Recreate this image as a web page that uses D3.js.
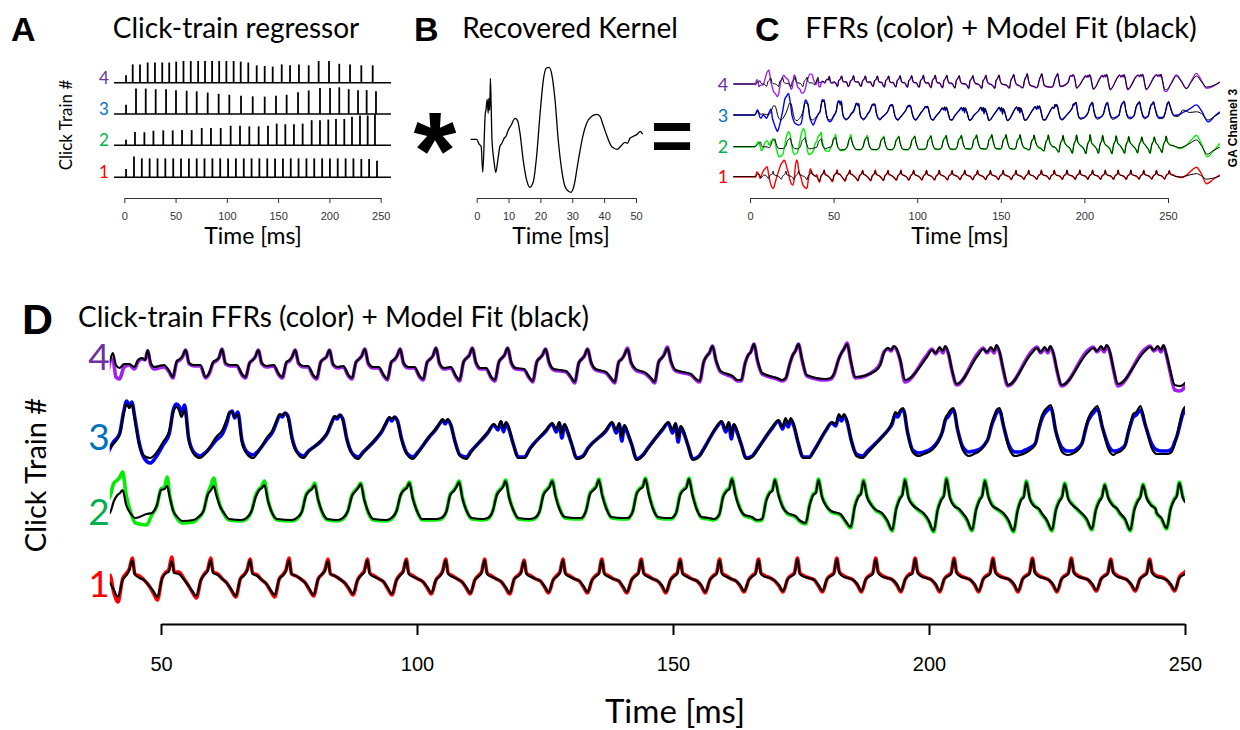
<!DOCTYPE html>
<html>
<head>
<meta charset="utf-8">
<script src="https://cdn.jsdelivr.net/npm/d3@7"></script>
<style>
  body { margin: 0; background: #fff; }
  .cal { font-family: Lato, "Open Sans", sans-serif; fill: #000; }
  .bold { font-family: "Liberation Sans", Arial, sans-serif; font-weight: bold; fill: #000; }
  .axis path, .axis line { stroke: #333; stroke-width: 1; }
  .axis text { font-family: "Liberation Sans", Arial, sans-serif; font-size: 11px; fill: #333; }
  .axisD path, .axisD line { stroke: #000; stroke-width: 2; }
  .axisD text { font-family: "Liberation Sans", Arial, sans-serif; font-size: 20px; fill: #000; }
</style>
</head>
<body>
<div id="chart"></div>
<script>

// ---- data ----
var traceStart = -10;
var restLevel = [-5, -9, -12, -6];   // pre-stimulus level, trains 1..4

var ticksA = [0, 50, 100, 150, 200, 250];
var ticksB = [0, 10, 20, 30, 40, 50];
var ticksD = [50, 100, 150, 200, 250];
var trainNames = ["1", "2", "3", "4"];

// recovered kernel (panel B)
var kernelT = [-1.9, 0, 0.8, 1.4, 1.9, 2.7, 2.9, 3.3, 3.6, 3.8, 4.1, 4.3, 4.5, 4.8, 5.4, 6.0, 6.5, 7.3, 7.9, 8.6, 9.2, 9.9, 10.8, 12.0, 12.8, 13.6, 14.6, 15.7, 16.7, 17.8, 18.8, 19.9, 20.9, 21.8, 22.7, 23.5, 24.6, 25.6, 26.7, 27.7, 28.8, 29.6, 30.5, 31.9, 33.3, 34.5, 36.1, 37.7, 38.7, 39.7, 40.8, 42.1, 43.1, 44.1, 45.2, 46.5, 47.3, 48.1, 49.2, 50.4, 51.3, 52.1];
var kernelV = [0, 0, -5, -7, -33, 26, 29, 40, 26, 41, 29, 61, 39, -1, -21, -33, -24, -7, -4, 1, 3, 9, 14, 21, 19, 6, -21, -41, -48, -42, -17, 26, 59, 71, 72, 66, 39, -1, -31, -47, -52, -53, -47, -21, 3, 16, 23, 25, 23, 14, 4, -6, -9, -10, -7, -3, -4, 1, 3, 5, 8, 5];

// train 1 (red)
var clicks1 = [1.7, 9.45, 17.1, 24.7, 32.4, 40.0, 47.7, 55.3, 63.0, 70.6, 78.2, 85.9, 93.5, 101.2, 108.8, 116.5, 124.1, 131.7, 139.4, 147.0, 154.7, 162.3, 169.9, 177.6, 185.2, 192.9, 200.5, 208.1, 215.8, 223.4, 231.1, 238.7, 246.4];
var amp1 = [0.27, 0.67, 0.61, 0.61, 0.61, 0.61, 0.61, 0.61, 0.61, 0.61, 0.61, 0.61, 0.61, 0.61, 0.61, 0.61, 0.61, 0.61, 0.61, 0.61, 0.61, 0.61, 0.61, 0.61, 0.61, 0.61, 0.61, 0.61, 0.61, 0.61, 0.59, 0.59, 0.53];
var offs1 = [0, 0.8, 1.6, 2.5, 3.3, 3.8, 4.4, 4.9, 5.8, 6.7];
var fit1 = [
  [-5, -5, -7, 2, 6, 3, -4, -9, -3, 1],
  [0, -6, -12, 0, 3, 4, 15, 2, 0, -2],
  [-4, -8, -14, -2, 2, 4, 15, 2, 0, -2],
  [-4, -8, -15, -2, 2, 5, 15, 3, 1, -2],
  [-4, -9, -16, -1, 3, 5, 16, 3, 1, -3],
  [-6, -13, -20, -3, 2, 7, 17, 3, -1, -3],
  [-9, -14, -20, -2, 4, 5, 16, 4, 3, -2],
  [-8, -14, -19, -3, 3, 6, 17, 4, 2, -2],
  [-7, -13, -19, -2, 2, 6, 17, 3, 1, -3],
  [-7, -13, -18, -2, 2, 6, 17, 3, 1, -2],
  [-6, -12, -18, -2, 3, 6, 16, 3, 1, -2],
  [-6, -11, -17, -3, 2, 5, 17, 3, 0, -2],
  [-5, -11, -17, -3, 2, 5, 17, 3, 0, -2],
  [-5, -10, -16, -3, 1, 5, 17, 3, 0, -2],
  [-5, -10, -16, -3, 1, 4, 17, 3, 0, -2],
  [-5, -10, -16, -2, 1, 4, 16, 3, 0, -2],
  [-4, -9, -15, -3, 1, 4, 17, 3, 0, -2],
  [-4, -9, -15, -3, 1, 3, 17, 3, 0, -2],
  [-4, -9, -15, -3, 1, 3, 17, 3, 0, -2],
  [-4, -8, -15, -3, 1, 3, 17, 3, 0, -2],
  [-4, -8, -15, -3, 1, 3, 17, 3, 0, -2],
  [-4, -8, -14, -3, 1, 3, 17, 3, 0, -1],
  [-4, -8, -14, -2, 1, 3, 18, 3, 0, -1],
  [-3, -8, -14, -2, 1, 3, 18, 4, 0, -1],
  [-3, -7, -14, -2, 1, 3, 18, 4, 0, -1],
  [-3, -7, -14, -2, 2, 3, 18, 4, 0, -1],
  [-3, -7, -14, -2, 1, 3, 18, 4, 0, -1],
  [-3, -7, -14, -2, 1, 3, 18, 4, 0, -1],
  [-3, -7, -14, -2, 1, 3, 18, 4, 0, -1],
  [-3, -7, -14, -2, 1, 3, 18, 4, 0, -1],
  [-3, -7, -13, -2, 1, 3, 17, 4, 0, -1],
  [-3, -7, -13, -2, 1, 3, 17, 4, 0, -1],
  [-3, -7, -13, -1, 2, 4, 16, 4, 1, 0]
];
var ffr1 = [
  [-5, -5, -3, 13, 5, 0, -11, -5, 10, 19],
  [27, 31, 6, -22, -38, -43, -47, -42, -22, -3],
  [15, 30, 41, 48, 54, 52, 40, 28, 10, -15],
  [-30, -35, -20, 35, 55, 45, 20, 8, -8, -30],
  [-41, -45, -47, -15, 15, 24, 12, 6, 1, -4],
  [2, -16, -25, -2, 4, 8, 19, 3, 1, -3],
  [-9, -16, -23, -1, 5, 7, 20, 5, 5, -1],
  [-8, -15, -21, -3, 4, 7, 19, 5, 3, -2],
  [-7, -14, -20, -2, 3, 7, 18, 4, 2, -3],
  [-7, -14, -20, -2, 3, 7, 19, 3, 1, -2],
  [-6, -13, -19, -2, 3, 7, 18, 3, 1, -2],
  [-6, -12, -18, -3, 3, 6, 18, 4, 1, -2],
  [-5, -12, -18, -3, 3, 6, 18, 4, 1, -2],
  [-5, -11, -17, -3, 2, 6, 18, 4, 1, -2],
  [-5, -11, -17, -3, 2, 5, 18, 4, 1, -2],
  [-5, -11, -17, -2, 2, 5, 17, 4, 1, -2],
  [-4, -10, -16, -3, 2, 5, 18, 4, 1, -2],
  [-4, -10, -16, -3, 2, 4, 18, 4, 1, -2],
  [-4, -10, -16, -3, 2, 4, 18, 4, 1, -2],
  [-4, -9, -16, -3, 2, 4, 18, 4, 1, -2],
  [-4, -9, -16, -3, 2, 4, 18, 4, 1, -2],
  [-4, -9, -15, -3, 2, 4, 18, 4, 1, -1],
  [-4, -9, -15, -2, 2, 4, 19, 4, 1, -1],
  [-3, -9, -15, -2, 2, 4, 19, 5, 1, -1],
  [-3, -8, -15, -2, 2, 4, 19, 5, 1, -1],
  [-3, -8, -15, -2, 3, 4, 19, 5, 1, -1],
  [-3, -8, -15, -2, 2, 4, 19, 5, 1, -1],
  [-3, -8, -15, -2, 2, 4, 19, 5, 1, -1],
  [-3, -8, -15, -2, 2, 4, 19, 5, 1, -1],
  [-3, -8, -15, -2, 2, 4, 19, 5, 1, -1],
  [-3, -8, -14, -2, 2, 4, 18, 5, 1, -1],
  [-3, -8, -14, -2, 2, 4, 18, 5, 1, 0],
  [-3, -8, -14, 0, 4, 6, 17, 6, 3, 2]
];
var tailT1 = [254, 258, 262, 265, 267, 270, 273, 277, 281];
var tailFit1 = [-3, -6, 0, 4, 6, -2, -14, -10, -3];
var tailFfr1 = [-2, -8, 5, 22, 29, 5, -30, -15, 2];

// train 2 (green)
var clicks2 = [1.7, 10.4, 19.6, 28.4, 38.0, 47.2, 56.3, 65.7, 75.5, 84.5, 94.0, 103.7, 112.8, 121.9, 131.0, 140.1, 148.6, 157.0, 165.4, 173.9, 182.7, 190.8, 198.9, 206.4, 214.5, 222.0, 229.8, 237.3, 244.4];
var amp2 = [0.18, 0.43, 0.42, 0.47, 0.48, 0.48, 0.49, 0.49, 0.56, 0.56, 0.56, 0.63, 0.63, 0.61, 0.61, 0.63, 0.70, 0.68, 0.68, 0.70, 0.81, 0.81, 0.83, 0.85, 0.85, 0.92, 0.96, 0.96, 0.99];
var offs2 = [0, 1.0, 2.0, 2.8, 3.5, 4.0, 4.5, 5.2, 6.0, 7.0];
var fit2 = [
  [-9, -9, -7, -3, 0, 2, 4, -6, -10, -9],
  [-10, -12, -6, 6, 9, 10, 12, 0, -10, -14],
  [-14, -12, -5, 8, 11, 12, 15, 2, -9, -14],
  [-15, -13, -5, 8, 11, 12, 16, 3, -9, -15],
  [-13, -12, -10, 2, 8, 10, 13, -2, -10, -15],
  [-11, -10, -2, 13, 14, 17, 6, -8, -14, -18],
  [-17, -14, -8, 8, 13, 17, 8, -3, -10, -16],
  [-17, -15, -8, 6, 13, 15, 18, 2, -10, -16],
  [-17, -15, -9, 7, 12, 14, 18, 3, -9, -16],
  [-17, -15, -8, 7, 12, 15, 19, 3, -9, -16],
  [-17, -15, -8, 8, 13, 15, 20, 4, -8, -16],
  [-16, -15, -9, 8, 12, 16, 21, 4, -8, -15],
  [-16, -15, -8, 8, 13, 16, 22, 5, -7, -15],
  [-16, -15, -9, 8, 13, 16, 22, 6, -7, -14],
  [-15, -15, -8, 9, 13, 16, 23, 7, -6, -14],
  [-15, -15, -9, 9, 14, 16, 24, 8, -6, -14],
  [-15, -15, -10, 8, 13, 15, 24, 8, -6, -14],
  [-15, -16, -12, 6, 12, 14, 24, 8, -5, -12],
  [-14, -17, -16, 2, 10, 12, 23, 8, -4, -10],
  [-13, -18, -20, -2, 8, 10, 23, 6, -3, -8],
  [-11, -18, -24, -4, 6, 9, 22, 6, -2, -7],
  [-10, -17, -27, -6, 4, 8, 23, 5, -2, -6],
  [-10, -17, -28, -7, 3, 7, 24, 5, -3, -6],
  [-9, -16, -27, -7, 3, 7, 22, 6, -3, -6],
  [-10, -17, -28, -8, 3, 6, 21, 4, -3, -6],
  [-10, -17, -27, -7, 2, 6, 19, 4, -2, -6],
  [-10, -16, -26, -7, 2, 6, 18, 5, -2, -6],
  [-10, -16, -27, -7, 2, 6, 18, 5, -2, -6],
  [-9, -15, -25, -6, 3, 7, 20, 5, -1, -5]
];
var ffr2 = [
  [-9, -9, -5, 2, 5, 0, -10, -20, -15, 0],
  [8, -5, 3, 10, 13, 12, 5, -10, -25, -37],
  [-30, -10, 15, 28, 33, 30, 20, 0, -20, -31],
  [-25, -5, 20, 35, 41, 38, 30, 5, -20, -31],
  [-20, 0, 6, 20, 23, 26, 31, 8, -8, -20],
  [-22, -12, -3, 14, 16, 26, 8, -8, -16, -20],
  [-19, -15, -8, 9, 18, 25, 12, -2, -11, -17],
  [-18, -16, -8, 8, 14, 17, 22, 3, -10, -17],
  [-18, -16, -9, 8, 13, 15, 20, 3, -10, -17],
  [-18, -16, -8, 8, 13, 16, 20, 4, -10, -17],
  [-18, -16, -8, 8, 14, 16, 21, 5, -8, -17],
  [-17, -16, -9, 9, 13, 17, 22, 5, -8, -16],
  [-17, -16, -8, 9, 14, 17, 23, 6, -7, -16],
  [-17, -16, -9, 9, 14, 17, 23, 7, -6, -15],
  [-16, -16, -8, 10, 14, 17, 24, 8, -5, -15],
  [-16, -16, -9, 10, 15, 17, 25, 9, -5, -15],
  [-16, -16, -10, 9, 14, 16, 25, 9, -5, -15],
  [-16, -17, -12, 7, 13, 15, 25, 9, -4, -13],
  [-15, -18, -17, 3, 11, 13, 24, 9, -3, -11],
  [-14, -19, -21, -1, 9, 11, 24, 7, -2, -9],
  [-12, -19, -25, -3, 7, 10, 23, 7, -1, -8],
  [-11, -18, -28, -5, 5, 9, 24, 6, -1, -7],
  [-11, -18, -29, -6, 4, 8, 25, 6, -2, -7],
  [-10, -17, -28, -6, 4, 8, 23, 7, -2, -7],
  [-11, -18, -29, -7, 4, 7, 22, 5, -2, -7],
  [-11, -18, -28, -6, 3, 7, 20, 5, -1, -7],
  [-11, -17, -27, -6, 3, 7, 19, 6, -1, -7],
  [-11, -17, -28, -6, 3, 7, 19, 6, -1, -7],
  [-10, -16, -26, -5, 4, 8, 21, 6, 0, -4]
];
var tailT2 = [253, 257, 261, 264, 267, 270, 273.5, 277, 281];
var tailFit2 = [-6, -12, -5, 3, 10, -6, -30, -20, -10];
var tailFfr2 = [-6, -14, -5, 10, 23, -2, -37, -22, 0];

// train 3 (blue)
var clicks3 = [1.7, 11.4, 20.9, 30.6, 40.7, 50.4, 60.8, 70.6, 81.3, 92.0, 102.4, 113.8, 125.2, 136.9, 147.9, 158.3, 169.4, 179.8, 190.8, 200.6, 209.6, 218.8, 227.9, 236.3, 245.4];
var amp3 = [0.30, 0.82, 0.82, 0.80, 0.80, 0.77, 0.75, 0.73, 0.69, 0.65, 0.62, 0.59, 0.57, 0.56, 0.59, 0.62, 0.70, 0.76, 0.84, 0.84, 0.86, 0.80, 0.77, 0.77, 0.73];
var offs3 = [0, 1.2, 2.0, 2.6, 3.1, 3.6, 4.2, 5.0, 6.0, 7.2, 8.2];
var fit3 = [
  [-12, -12, -8, -3, -2, -5, -9, -10, -9, -10, -11],
  [-10, -2, 8, 14, 12, 14, 6, -10, -22, -26, -22],
  [-12, 0, 12, 20, 18, 20, 10, -10, -24, -28, -24],
  [-15, 0, 18, 22, 20, 22, 12, -10, -24, -26, -21],
  [-12, -3, 18, 28, 24, 28, 12, -12, -24, -26, -22],
  [-10, 1, 20, 25, 22, 15, 22, -8, -22, -26, -22],
  [-5, 2, 12, 20, 20, 15, 18, -10, -22, -26, -20],
  [-6, 2, 12, 18, 17, 19, 14, -8, -21, -26, -20],
  [-8, 0, 10, 16, 15, 17, 12, -8, -22, -27, -21],
  [-6, 2, 10, 15, 13, 15, 10, -8, -22, -27, -21],
  [-4, 3, 9, 13, 10, 13, 8, -10, -24, -27, -20],
  [0, 8, 4, 11, 4, 10, 4, -12, -26, -26, -18],
  [2, 9, 3, 10, -2, 8, 2, -12, -27, -25, -17],
  [2, 10, 2, 9, -5, 7, 1, -12, -28, -24, -17],
  [3, 10, 2, 9, -6, 6, 1, -13, -28, -25, -17],
  [4, 11, 3, 10, -3, 8, 2, -12, -27, -25, -18],
  [5, 12, 5, 14, 8, 14, 8, -10, -26, -26, -19],
  [2, 10, 8, 18, 14, 18, 12, -8, -24, -26, -21],
  [-5, 2, 10, 20, 18, 22, 24, 0, -20, -24, -22],
  [-18, -10, 0, 14, 18, 22, 24, 2, -18, -24, -22],
  [-20, -14, -6, 8, 16, 22, 24, 6, -16, -24, -23],
  [-21, -17, -12, 3, 14, 20, 24, 27, 0, -20, -23],
  [-22, -18, -12, 2, 12, 18, 22, 26, 4, -18, -23],
  [-22, -19, -14, 0, 10, 18, 20, 26, 6, -16, -22],
  [-22, -22, -20, -12, -2, 10, 22, 26, 10, -8, -15]
];
var ffr3 = [
  [-12, -12, -5, 2, 0, -8, -18, -21, -12, -16, -21],
  [-5, 5, -21, -30, -37, -44, -50, -58, -45, -22, 0],
  [33, 42, 48, 40, 25, 10, -12, -25, -35, -38, -40],
  [-35, -5, 20, 30, 28, 22, 16, -15, -30, -40, -30],
  [-10, -2, 20, 31, 26, 30, 14, -10, -26, -31, -26],
  [-13, -2, 22, 28, 26, 20, 27, -6, -20, -24, -21],
  [-8, -2, 8, 19, 21, 14, 20, -8, -20, -23, -19],
  [-8, 0, 10, 17, 15, 19, 16, -6, -20, -24, -19],
  [-9, -1, 9, 15, 13, 17, 13, -7, -21, -25, -20],
  [-7, 1, 9, 14, 11, 15, 11, -7, -21, -25, -20],
  [-5, 2, 8, 12, 8, 12, 7, -9, -23, -25, -19],
  [-1, 7, 2, 10, 0, 9, 2, -12, -25, -25, -17],
  [1, 8, 0, 9, -6, 7, 0, -12, -26, -24, -16],
  [1, 9, -1, 8, -9, 6, -1, -12, -27, -23, -16],
  [2, 9, -1, 8, -10, 5, -1, -13, -27, -24, -16],
  [3, 10, 0, 9, -7, 7, 0, -12, -26, -24, -17],
  [4, 11, 3, 12, 5, 12, 6, -10, -25, -25, -18],
  [1, 9, 6, 16, 11, 16, 10, -8, -22, -24, -19],
  [-5, 2, 8, 17, 15, 20, 22, 0, -18, -21, -20],
  [-16, -9, 0, 12, 15, 19, 22, 2, -15, -20, -19],
  [-18, -13, -6, 6, 13, 19, 21, 5, -13, -20, -20],
  [-18, -15, -11, 2, 11, 17, 21, 24, 0, -16, -19],
  [-19, -16, -11, 1, 10, 15, 19, 23, 4, -14, -19],
  [-19, -17, -13, -1, 8, 15, 17, 22, 6, -12, -18],
  [-19, -19, -17, -10, -3, 7, 18, 22, 10, -6, -13]
];
var tailT3 = [256, 259, 263, 267, 270, 274, 278, 281];
var tailFit3 = [-16, 2, -5, -3, -8, -26, -15, -7];
var tailFfr3 = [-12, -5, 5, 16, 0, -31, -15, -3];

// train 4 (purple)
var clicks4 = [1.7, 8.2, 15.3, 22.8, 29.9, 37.0, 43.8, 50.6, 57.7, 64.8, 72.0, 78.7, 85.6, 92.5, 99.5, 106.6, 113.5, 120.9, 129.1, 136.9, 144.7, 153.5, 161.6, 170.3, 179.8, 189.5, 199.6, 209.6, 220.1, 231.1, 242.2];
var amp4 = [0.24, 0.59, 0.59, 0.65, 0.65, 0.65, 0.65, 0.68, 0.70, 0.70, 0.70, 0.70, 0.70, 0.70, 0.70, 0.70, 0.68, 0.65, 0.56, 0.54, 0.52, 0.59, 0.56, 0.59, 0.56, 0.70, 0.70, 0.61, 0.59, 0.56, 0.56];
var offs4 = [0, 1.0, 1.7, 2.5, 3.1, 3.6, 4.2, 4.9, 5.8];
var fit4 = [
  [-6, -6, -8, -2, 0, -1, 3, -4, -6],
  [-6, -9, -12, 0, 3, 5, 10, -2, -5],
  [-6, -9, -13, 0, 3, 5, 11, -1, -4],
  [-5, -9, -13, 1, 4, 6, 12, 0, -3],
  [-4, -8, -13, 1, 4, 6, 12, 0, -3],
  [-3, -6, -8, -1, 6, 12, 0, -3, 1],
  [1, -2, 5, 7, 5, 15, 2, -2, -1],
  [0, -6, -12, 4, 6, 9, 15, 2, 0],
  [0, -12, -8, 3, 5, 7, 16, 2, 0],
  [0, -9, -12, 2, 5, 8, 15, 2, -1],
  [0, -9, -12, 3, 5, 8, 15, 2, -1],
  [-1, -10, -13, 3, 6, 8, 15, 1, -2],
  [-1, -10, -13, 3, 6, 9, 16, 2, -2],
  [-2, -10, -14, 3, 6, 9, 16, 2, -2],
  [-2, -11, -14, 3, 6, 9, 17, 2, -3],
  [-2, -11, -15, 3, 7, 9, 17, 3, -3],
  [-3, -12, -15, 3, 7, 10, 17, 3, -3],
  [-4, -12, -16, 3, 7, 10, 16, 3, -4],
  [-6, -12, -17, 2, 6, 9, 16, 3, -4],
  [-7, -13, -17, 3, 6, 10, 16, 3, -4],
  [-8, -13, -17, 3, 7, 10, 17, 4, -5],
  [-9, -14, -16, 3, 9, 12, 19, 5, -6],
  [-11, -15, -15, 2, 10, 13, 21, 5, -8],
  [-13, -15, -13, 1, 10, 14, 21, 6, -10],
  [-14, -13, -8, 5, 12, 16, 21, 5, -12],
  [-6, 0, 12, 17, 15, 19, 16, 5, -15],
  [8, 15, 12, 18, 14, 19, 12, -5, -19],
  [10, 16, 13, 18, 14, 20, 13, -4, -20],
  [12, 17, 13, 18, 14, 19, 12, -5, -20],
  [13, 17, 14, 19, 15, 20, 14, -3, -19],
  [14, 18, 15, 19, 15, 20, 10, -5, -20]
];
var ffr4 = [
  [-6, -6, -3, 5, 0, -13, -10, -9, -9],
  [-5, 10, 22, 28, 31, 20, 0, -10, -25],
  [-32, -39, -35, -15, 0, 5, 12, 17, 12],
  [5, -8, -20, -15, 5, 18, 15, 0, -14],
  [-20, -30, -30, -26, -20, -10, 3, 10, 20],
  [20, 5, -3, -8, 4, 6, -12, -14, -2],
  [0, -4, 3, 6, 5, 14, 0, -4, -3],
  [-2, -7, -13, 3, 5, 8, 15, 1, -1],
  [-1, -13, -9, 2, 4, 7, 16, 1, -1],
  [-1, -10, -13, 2, 5, 8, 15, 1, -2],
  [-1, -10, -13, 2, 4, 8, 15, 1, -2],
  [-2, -11, -14, 3, 6, 8, 15, 0, -3],
  [-2, -11, -14, 3, 6, 9, 16, 1, -3],
  [-3, -11, -15, 3, 5, 9, 16, 1, -3],
  [-3, -12, -15, 3, 6, 9, 17, 1, -4],
  [-3, -12, -16, 3, 7, 10, 17, 2, -4],
  [-4, -13, -16, 3, 7, 10, 17, 2, -4],
  [-5, -13, -17, 3, 7, 10, 16, 2, -5],
  [-7, -13, -18, 2, 6, 9, 16, 2, -5],
  [-8, -14, -18, 3, 6, 10, 17, 2, -5],
  [-9, -14, -18, 3, 7, 11, 18, 3, -6],
  [-10, -15, -17, 3, 9, 12, 19, 4, -7],
  [-12, -16, -16, 2, 10, 13, 21, 4, -9],
  [-14, -16, -14, 1, 10, 14, 21, 5, -11],
  [-15, -14, -9, 5, 12, 16, 22, 4, -13],
  [-5, 2, 13, 16, 14, 18, 15, 4, -17],
  [10, 16, 11, 16, 12, 18, 11, -6, -20],
  [12, 17, 12, 16, 12, 19, 12, -5, -21],
  [14, 18, 12, 16, 12, 18, 11, -6, -21],
  [15, 18, 13, 17, 13, 19, 13, -4, -21],
  [16, 19, 14, 17, 13, 19, 9, -7, -25]
];
var tailT4 = [249, 252, 255, 258, 261, 264, 267, 270, 273, 277, 281];
var tailFit4 = [-21, -5, 15, 0, -18, 0, 15, 0, -14, -10, -2];
var tailFfr4 = [-26, -3, 18, 2, -18, 2, 22, 3, -17, -12, 0];

// ---- layout ----
var labelColors = ["#FF0000", "#00B050", "#0070C0", "#7030A0"];
var traceColors = ["#FF0000", "#00EE00", "#0000FF", "#A020F0"];
var rowBaseA = [177.3, 145.3, 114, 82.7];
var rowBaseC = [176.7, 146.7, 115, 84];
var cGain = [0.28, 0.36, 0.36, 0.38];
var rowMidD = [577, 503, 432, 365];
var labelYD = [597, 525, 450, 370];

var trains = [
  { clicks: clicks1, amp: amp1, offs: offs1, fit: fit1, ffr: ffr1, tailT: tailT1, tailFit: tailFit1, tailFfr: tailFfr1 },
  { clicks: clicks2, amp: amp2, offs: offs2, fit: fit2, ffr: ffr2, tailT: tailT2, tailFit: tailFit2, tailFfr: tailFfr2 },
  { clicks: clicks3, amp: amp3, offs: offs3, fit: fit3, ffr: ffr3, tailT: tailT3, tailFit: tailFit3, tailFfr: tailFfr3 },
  { clicks: clicks4, amp: amp4, offs: offs4, fit: fit4, ffr: ffr4, tailT: tailT4, tailFit: tailFit4, tailFfr: tailFfr4 }
];
trains.forEach(function(tr, i) { tr.rest = restLevel[i]; });

function tracePoints(tr, which) {
  var rows = which === "fit" ? tr.fit : tr.ffr;
  var tailV = which === "fit" ? tr.tailFit : tr.tailFfr;
  var pts = [[traceStart, tr.rest]];
  tr.clicks.forEach(function(c, i) {
    tr.offs.forEach(function(o, j) { pts.push([c + o, rows[i][j]]); });
  });
  tr.tailT.forEach(function(t, k) { pts.push([t, tailV[k]]); });
  return pts;
}

var svg = d3.select("#chart")
  .append("svg")
  .attr("width", 1240)
  .attr("height", 730);

function addText(x, y, txt, cls, size, anchor, color, rotate) {
  var t = svg.append("text")
    .attr("class", cls)
    .attr("x", x)
    .attr("y", y)
    .style("font-size", size + "px")
    .style("text-anchor", anchor || "start")
    .text(txt);
  if (color) t.style("fill", color);
  if (rotate) t.attr("transform", "rotate(-90," + x + "," + y + ")");
  return t;
}

// ---- panel A : click-train regressor ----
var xA = d3.scaleLinear().domain([0, 250]).range([124.3, 380.7]);
var hA = d3.scaleLinear().domain([0, 1]).range([0, 31]);

addText(11, 41, "A", "bold", 34);
addText(236, 38, "Click-train regressor", "cal", 28, "middle");

trains.forEach(function(tr, i) {
  var g = svg.append("g");
  g.append("line")
    .attr("x1", xA(traceStart)).attr("x2", xA(260))
    .attr("y1", rowBaseA[i]).attr("y2", rowBaseA[i])
    .attr("stroke", "#000").attr("stroke-width", 1.4);
  g.selectAll("line.click")
    .data(tr.clicks)
    .enter()
    .append("line")
    .attr("class", "click")
    .attr("x1", function(d) { return xA(d); })
    .attr("x2", function(d) { return xA(d); })
    .attr("y1", rowBaseA[i])
    .attr("y2", function(d, k) { return rowBaseA[i] - hA(tr.amp[k]); })
    .attr("stroke", "#000")
    .attr("stroke-width", 1.8);
  addText(104, rowBaseA[i] + 1, trainNames[i], "cal", 17, "middle", labelColors[i]);
});

addText(72, 125, "Click Train #", "cal", 17, "middle", null, true);

svg.append("g")
  .attr("class", "axis")
  .attr("transform", "translate(0,198)")
  .call(d3.axisBottom(xA).tickValues(ticksA).tickSize(5).tickSizeOuter(0).tickPadding(9));
addText(253, 244, "Time [ms]", "cal", 23, "middle");

// ---- panel B : kernel ----
var xB = d3.scaleLinear().domain([0, 50]).range([476.7, 636]);
var yB = d3.scaleLinear().domain([-60, 80]).range([199.3, 59.3]);

addText(414, 41, "B", "bold", 34);
addText(570, 38, "Recovered Kernel", "cal", 28, "middle");

svg.append("path")
  .datum(kernelT.map(function(t, k) { return [t, kernelV[k]]; }))
  .attr("fill", "none")
  .attr("stroke", "#000")
  .attr("stroke-width", 1.3)
  .attr("d", d3.line()
    .x(function(d) { return xB(d[0]); })
    .y(function(d) { return yB(d[1]); })
    .curve(d3.curveMonotoneX));

svg.append("g")
  .attr("class", "axis")
  .attr("transform", "translate(0,198)")
  .call(d3.axisBottom(xB).tickValues(ticksB).tickSize(5).tickSizeOuter(0).tickPadding(9));
addText(561, 244, "Time [ms]", "cal", 23, "middle");

// convolution symbols
addText(435, 188, "*", "bold", 110, "middle");
addText(672, 160, "=", "bold", 72, "middle");

// ---- panel C : FFRs + fit ----
var xC = d3.scaleLinear().domain([0, 250]).range([750, 1168]);

addText(755, 41, "C", "bold", 34);
addText(1001, 38, "FFRs (color) + Model Fit (black)", "cal", 29, "middle");

var lineC = d3.line().curve(d3.curveMonotoneX);
trains.forEach(function(tr, i) {
  var yC = d3.scaleLinear()
    .domain([tr.rest - 50, tr.rest + 50])
    .range([rowBaseC[i] + 50 * cGain[i], rowBaseC[i] - 50 * cGain[i]]);
  lineC.x(function(d) { return xC(d[0]); }).y(function(d) { return yC(d[1]); });
  svg.append("path").datum(tracePoints(tr, "ffr"))
    .attr("fill", "none").attr("stroke", traceColors[i]).attr("stroke-width", 1.4)
    .attr("stroke-linejoin", "round").attr("d", lineC);
  svg.append("path").datum(tracePoints(tr, "fit"))
    .attr("fill", "none").attr("stroke", "#000").attr("stroke-width", 1)
    .attr("stroke-linejoin", "round").attr("d", lineC);
  addText(723, rowBaseC[i] + 6.5, trainNames[i], "cal", 18, "middle", labelColors[i]);
});

svg.append("g")
  .attr("class", "axis")
  .attr("transform", "translate(0,198)")
  .call(d3.axisBottom(xC).tickValues(ticksA).tickSize(5).tickSizeOuter(0).tickPadding(9));
addText(960, 244, "Time [ms]", "cal", 23, "middle");
addText(1237, 128, "GA Channel 3", "bold", 12, "middle", null, true);

// ---- panel D : enlarged FFRs ----
var xD = d3.scaleLinear().domain([50, 250]).range([161, 1185]);

addText(22, 334, "D", "bold", 43);
addText(78, 327, "Click-train FFRs (color) + Model Fit (black)", "cal", 28);

svg.append("clipPath")
  .attr("id", "clipD")
  .append("rect")
  .attr("x", xD(40)).attr("y", 300)
  .attr("width", xD(250) - xD(40)).attr("height", 320);

var gD = svg.append("g").attr("clip-path", "url(#clipD)");
var lineD = d3.line().curve(d3.curveMonotoneX);
trains.forEach(function(tr, i) {
  var yD = d3.scaleLinear().domain([-50, 50]).range([rowMidD[i] + 50, rowMidD[i] - 50]);
  lineD.x(function(d) { return xD(d[0]); }).y(function(d) { return yD(d[1]); });
  gD.append("path").datum(tracePoints(tr, "ffr"))
    .attr("fill", "none").attr("stroke", traceColors[i]).attr("stroke-width", 3.6)
    .attr("stroke-linejoin", "round").attr("d", lineD);
  gD.append("path").datum(tracePoints(tr, "fit"))
    .attr("fill", "none").attr("stroke", "#000").attr("stroke-width", 2.2)
    .attr("stroke-linejoin", "round").attr("d", lineD);
  addText(99, labelYD[i], trainNames[i], "cal", 37, "middle", labelColors[i]);
});

addText(46, 475, "Click Train #", "cal", 29, "middle", null, true);

svg.append("g")
  .attr("class", "axisD")
  .attr("transform", "translate(0,624)")
  .call(d3.axisBottom(xD).tickValues(ticksD).tickSize(11).tickSizeOuter(0).tickPadding(22));
addText(675, 723, "Time [ms]", "cal", 33, "middle");

</script>
</body>
</html>
